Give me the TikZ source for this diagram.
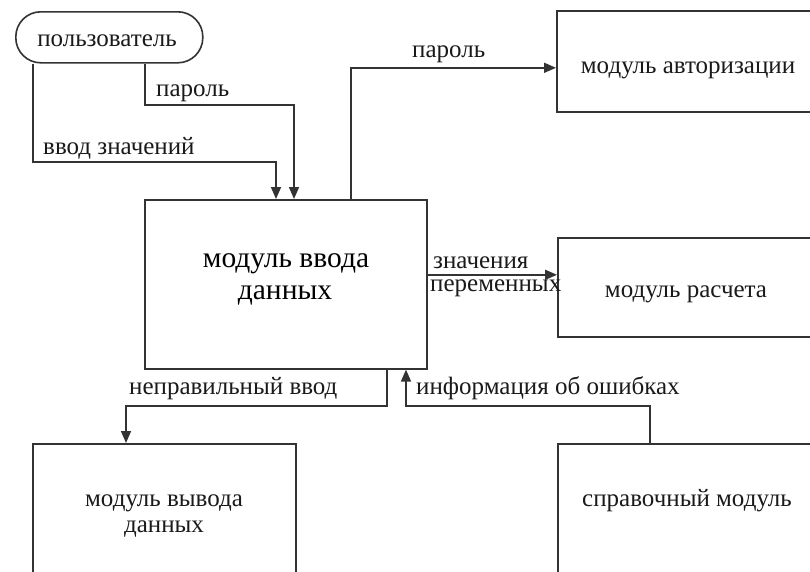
\documentclass[tikz,border=0pt]{standalone}
\usepackage{fontspec}
\setmainfont{Liberation Serif}
\usetikzlibrary{arrows.meta}
\definecolor{linec}{HTML}{333333}
\definecolor{txtc}{HTML}{1A1A1A}
\begin{document}
\begin{tikzpicture}[x=1pt,y=-1pt,
  box/.style={draw=linec, line width=1.6pt, rectangle, inner sep=0pt, anchor=north west},
  lbl/.style={anchor=base west, inner sep=0pt, font=\fontsize{25}{26}\selectfont, text=txtc},
  btxt/.style={anchor=base, inner sep=0pt, font=\fontsize{25}{26}\selectfont, text=txtc},
  mtxt/.style={anchor=base, inner sep=0pt, font=\fontsize{29.5}{30}\selectfont, text=black},
  flow/.style={draw=linec, line width=1.6pt, -{Triangle[length=12pt,width=10pt]}}]
\fill[white] (0,0) rectangle (810,571);
\useasboundingbox (0,0) rectangle (810,571);

% boxes
\node[box, minimum width=187pt, minimum height=51pt, rounded corners=25pt] (user) at (15,11) {};
\node[btxt] (usertxt) at (107,46) {пользователь};

\node[box, minimum width=282pt, minimum height=169pt] (main) at (144,199) {};
\node[mtxt] (main1) at (286,267) {модуль ввода};
\node[mtxt] (main2) at (285,299) {данных};

\node[box, minimum width=270pt, minimum height=101pt] (auth) at (556,10) {};
\node[btxt] (authtxt) at (688,73) {модуль авторизации};

\node[box, minimum width=270pt, minimum height=99pt] (calc) at (557,237) {};
\node[btxt] (calctxt) at (686,297) {модуль расчета};

\node[box, minimum width=263pt, minimum height=140pt] (out) at (32,443) {};
\node[btxt] (out1) at (164,506) {модуль вывода};
\node[btxt] (out2) at (164,532) {данных};

\node[box, minimum width=270pt, minimum height=140pt] (help) at (557,443) {};
\node[btxt] (helptxt) at (687,506) {справочный модуль};

% connectors
\draw[flow] ([xshift=18pt]user.south west) |- (276,162) -- ([xshift=132pt]main.north west);
\draw[flow] ([xshift=130pt]user.south west) |- (294,105) -- ([xshift=150pt]main.north west);
\draw[flow] ([xshift=207pt]main.north west) |- ([yshift=-6.5pt]auth.west);
\draw[flow] ([yshift=9.5pt]main.east) -- ([yshift=9.5pt]main.east -| calc.west);
\draw[flow] ([xshift=243pt]main.south west) |- (126,406) -- ([xshift=94pt]out.north west);
\draw[flow] ([xshift=93pt]help.north west) |- (406,406) -- ([xshift=262pt]main.south west);

% labels
\node[lbl] (l1) at (156,96) {пароль};
\node[lbl] (l2) at (43,154) {ввод значений};
\node[lbl] (l3) at (412,57) {пароль};
\node[lbl] (l4) at (433,268) {значения};
\node[lbl] (l5) at (430,291) {переменных};
\node[lbl] (l6) at (129,394) {неправильный ввод};
\node[lbl] (l7) at (416,394) {информация об ошибках};
\end{tikzpicture}
\end{document}
